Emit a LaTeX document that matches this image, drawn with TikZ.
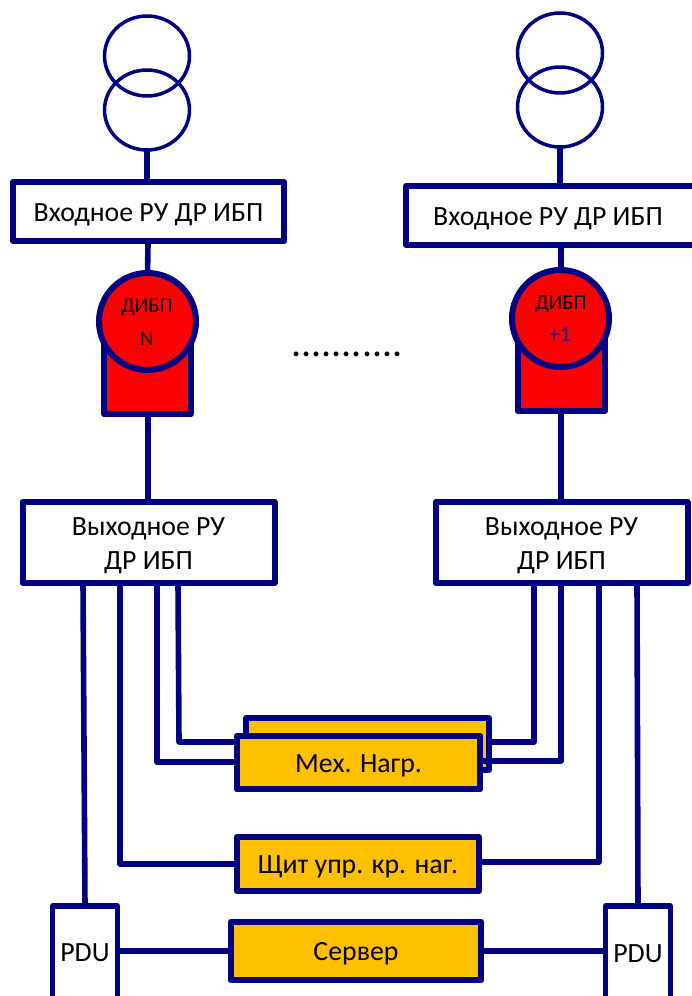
\documentclass[tikz,border=0pt]{standalone}
\usepackage{fontspec}
\usetikzlibrary{shapes.geometric}
\setmainfont{Carlito}
\definecolor{navyl}{RGB}{0,0,128}
\definecolor{amberb}{RGB}{255,192,0}
\definecolor{plusone}{RGB}{70,20,110}
\tikzset{x=1pt,y=-1pt,
 every node/.style={outer sep=0pt},
 wire/.style={draw=navyl,line width=5.6pt,line join=round},
 coil/.style={shape=ellipse,draw=navyl,line width=3.5pt,minimum width=85pt,minimum height=80pt,inner sep=0pt},
 boxw/.style={shape=rectangle,draw=navyl,line width=6pt,fill=white,line join=round,inner sep=0pt},
 pdubox/.style={shape=rectangle,draw=navyl,line width=5.2pt,fill=white,line join=round,inner sep=0pt,minimum width=65pt,minimum height=94pt},
 boxo/.style={shape=rectangle,draw=navyl,line width=5.8pt,fill=amberb,line join=round,inner sep=0pt},
 ups/.style={draw=navyl,line width=6pt,fill=red,line join=round},
 lab/.style={font=\fontsize{27.8}{30}\selectfont,text=black,align=center},
 one/.style={text height=19pt,text depth=0pt},
 small/.style={font=\fontsize{21}{23}\selectfont,text=black,inner sep=0pt}}
\begin{document}
\begin{tikzpicture}
\useasboundingbox (0,0) rectangle (692,996);
% nodes that wires run to
\node[coil] (tl1) at (147,56) {};
\node[coil] (tl2) at (147,110) {};
\node[coil] (tr1) at (560,53) {};
\node[coil] (tr2) at (560,107) {};
\coordinate (il1) at (147,182); \coordinate (il2) at (148,244);
\coordinate (ir1) at (560,186); \coordinate (ir2) at (561,245);
\coordinate (ul1) at (147.5,275); \coordinate (ul2) at (148,414);
\coordinate (ur1) at (561,272); \coordinate (ur2) at (561,411);
\coordinate (ol0) at (148,502); \coordinate (or0) at (561,502);
\coordinate (ol1) at (83,583); \coordinate (ol2) at (120,583);
\coordinate (ol3) at (157,583); \coordinate (ol4) at (178,583);
\coordinate (or1) at (534,583); \coordinate (or2) at (561,583);
\coordinate (or3) at (599,583); \coordinate (or4) at (637,583);
\coordinate (pl0) at (85,906); \coordinate (pr0) at (638,906);
\draw[wire] (tl2.south) -- (il1);
\draw[wire] (il2) -- (ul1);
\draw[wire] (tr2.south) -- (ir1);
\draw[wire] (ir2) -- (ur1);
\draw[wire] (ul2) -- (ol0);
\draw[wire] (ur2) -- (or0);
\draw[wire] (ol1) -- (pl0);
\draw[wire] (or4) -- (pr0);
% input
\node[boxw,minimum width=271pt,minimum height=59pt,lab,one] (inl) at (148.5,211.5) {Входное РУ ДР ИБП};
\node[boxw,minimum width=289pt,minimum height=59pt,lab,one] (inr) at (550.5,215.5) {Входное РУ ДР ИБП\hspace{5pt}};
% UPS
\draw[ups] (104,340) -- (104,414) -- (191,414) -- (191,340);
\draw[ups] (518,337) -- (518,411) -- (605,411) -- (605,337);
\node[ups,circle,minimum size=97pt,inner sep=0pt] (ul) at (147.5,321.5) {};
\node[ups,circle,minimum size=97pt,inner sep=0pt] (ur) at (560.5,318.5) {};
\node[small] at (147,307) {ДИБП};
\node[small] at (147,339) {N};
\node[small] at (561,304) {ДИБП};
\node[small,text=plusone,font=\fontsize{22}{24}\selectfont] at (560,334) {+1};
\node[font=\fontsize{40}{42}\selectfont,inner sep=0pt,anchor=base] at (347,356) {...........};
% output
\node[boxw,minimum width=252pt,minimum height=81pt,lab] (ol) at (148.5,542.5) {\rule{0pt}{25pt}Выходное РУ\\[4pt]ДР ИБП};
\node[boxw,minimum width=252pt,minimum height=81pt,lab] (or) at (561.5,542.5) {\rule{0pt}{25pt}Выходное РУ\\[4pt]ДР ИБП};
% loads
\node[boxo,minimum width=243pt,minimum height=52pt] (mb) at (367.5,744) {};
\draw[wire] (ol4) -- (179,742) -- (mb.west |- 0,742);
\draw[wire] (or1) -- (534,742) -- (mb.east |- 0,742);
\node[boxo,minimum width=243pt,minimum height=53pt] (mfback) at (358.5,762.5) {};
\draw[wire] (ol3) -- (157,762) -- (mfback.west |- 0,762);
\draw[wire] (or2) -- (561,761) -- (mfback.east |- 0,761);
\node[boxo,minimum width=243pt,minimum height=53pt,lab,one] (mf) at (358.5,762.5) {Мех. Нагр.};
\node[boxo,minimum width=242.5pt,minimum height=54.5pt,lab,one] (sh) at (358,864) {Щит упр. кр. наг.};
\draw[wire] (ol2) -- (120,864) -- (sh.west |- 0,864);
\draw[wire] (or3) -- (599,862) -- (sh.east |- 0,862);
\node[boxo,minimum width=250.5pt,minimum height=58.5pt,lab,one] (srv) at (356,951) {Сервер};
\node[pdubox,lab,text height=16pt,text depth=0pt] (pl) at (85,953) {PDU};
\node[pdubox,lab,text height=18pt,text depth=0pt] (pr) at (638,953) {PDU};
\draw[wire] (pl.east |- 0,951) -- (srv.west |- 0,951);
\draw[wire] (srv.east |- 0,951) -- (pr.west |- 0,951);
\end{tikzpicture}
\end{document}
